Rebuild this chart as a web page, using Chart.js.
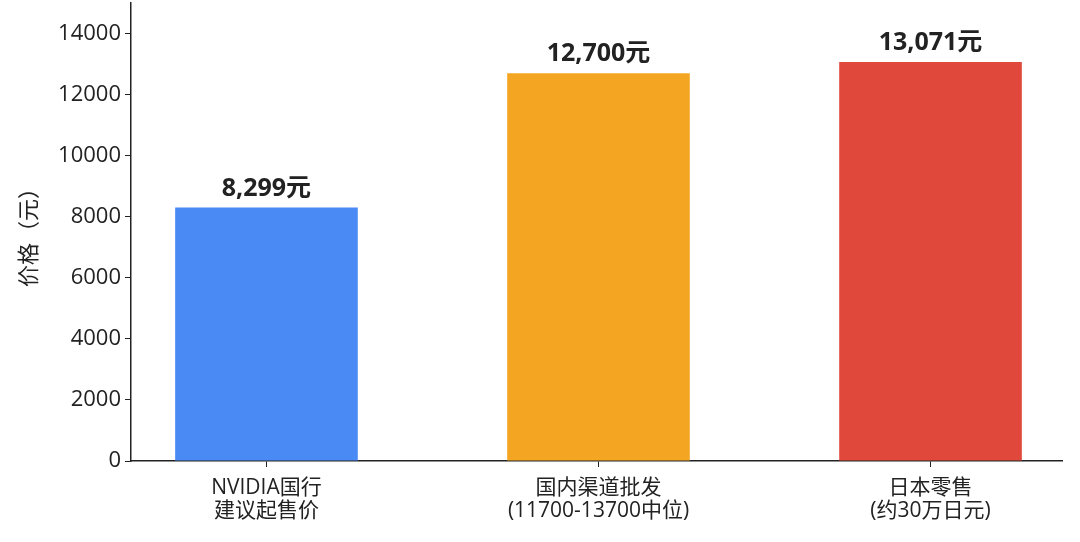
<!DOCTYPE html>
<html>
<head>
<meta charset="utf-8">
<script src="https://cdn.jsdelivr.net/npm/chart.js@4/dist/chart.umd.min.js"></script>
<style>
  html, body { margin: 0; padding: 0; background: #fff; }
  #wrap { width: 1080px; height: 542px; }
</style>
</head>
<body>
<div id="wrap"><canvas id="c"></canvas></div>
<script>
// data
const categories = [['NVIDIA国行', '建议起售价'], ['国内渠道批发', '(11700-13700中位)'], ['日本零售', '(约30万日元)']];
const prices     = [8299, 12700, 13071];
const priceText  = ['8,299元', '12,700元', '13,071元'];
const yTicks     = [0, 2000, 4000, 6000, 8000, 10000, 12000, 14000];
const barColors  = ['#4A8AF4', '#F4A623', '#E0483C'];

const font = '"Open Sans", "Noto Sans CJK SC", sans-serif';
const ink  = '#222222';

// labels above the bars
const barLabels = {
    id: 'barLabels',
    afterDatasetsDraw(chart) {
        const ctx = chart.ctx;
        const meta = chart.getDatasetMeta(0);
        ctx.save();
        ctx.font = 'bold 25px ' + font;
        ctx.fillStyle = ink;
        ctx.textAlign = 'center';
        ctx.textBaseline = 'alphabetic';
        meta.data.forEach((bar, i) => {
            ctx.fillText(priceText[i], bar.x, bar.y - 12);
        });
        ctx.restore();
    }
};

new Chart(document.getElementById('c'), {
    type: 'bar',
    data: {
        datasets: [{
            data: prices.map((v, i) => ({ x: i, y: v })),
            backgroundColor: barColors,
            barPercentage: 0.55,
            categoryPercentage: 1.0,
        }]
    },
    plugins: [barLabels],
    options: {
        responsive: true,
        maintainAspectRatio: false,
        animation: false,
        layout: { padding: { top: 3, right: 18, left: 0, bottom: 0 } },
        plugins: {
            legend: { display: false },
            tooltip: { enabled: false },
        },
        scales: {
            x: {
                type: 'linear',
                min: -0.408,
                max: 2.396,
                offset: false,
                afterBuildTicks: s => { s.ticks = categories.map((c, i) => ({ value: i })); },
                grid: { drawOnChartArea: false, drawTicks: true, tickLength: 6, color: ink, offset: false },
                border: { color: ink, width: 1.5 },
                ticks: {
                    color: ink,
                    font: { family: font, size: 21, lineHeight: 1.12 },
                    padding: 9,
                    maxRotation: 0,
                    autoSkip: false,
                    callback: v => categories[v]
                },
                afterFit: s => { s.height = 81; s.paddingLeft = 0; s.paddingRight = 0; }
            },
            y: {
                min: 0,
                max: 15000,
                afterBuildTicks: s => { s.ticks = yTicks.map(v => ({ value: v })); },
                grid: { drawOnChartArea: false, drawTicks: true, tickLength: 6, color: ink },
                border: { color: ink, width: 1.5 },
                ticks: {
                    color: ink,
                    padding: 4,
                    autoSkip: false,
                    font: { family: font, size: 22 },
                    callback: v => String(v)
                },
                title: { display: true, text: '价格（元）', color: ink, font: { family: font, size: 22 }, padding: { top: 17, bottom: 0 } },
                afterFit: s => { s.width = 131; s.paddingTop = 0; s.paddingBottom = 0; }
            }
        }
    }
});
</script>
</body>
</html>
